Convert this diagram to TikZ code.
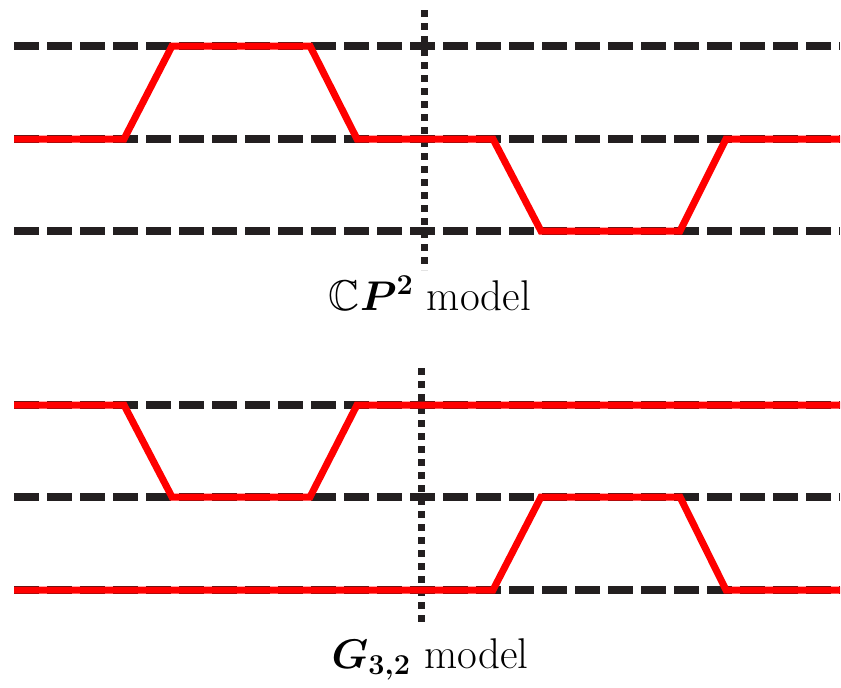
\documentclass[tikz,border=0pt]{standalone}
\usepackage{amsmath,amssymb,bm}
\definecolor{dashgray}{HTML}{231F20}
\tikzset{
  level/.style={draw=dashgray, line width=4pt, dash pattern=on 12.5pt off 4pt, line cap=butt},
  divider/.style={draw=dashgray, line width=3.5pt, dash pattern=on 3.5pt off 3pt, line cap=butt},
  path/.style={draw=red, line width=3.5pt, line join=miter, line cap=butt},
  caption/.style={anchor=base, inner sep=0pt, font=\fontsize{21.5}{25}\selectfont}
}
\begin{document}
\begin{tikzpicture}[x=0.5pt,y=-0.5pt]
\useasboundingbox (0,0) rectangle (841,687);
% top panel
\foreach \yy in {46,139,231} \draw[level] (14,\yy) -- (840,\yy);
\draw[divider] (424,10) -- (424,270);
\draw[path] (14,139) -- (124,139) -- (172,46) -- (310,46) -- (357,139) -- (493,139) -- (541,231) -- (680,231) -- (726,139) -- (840,139);
\node[caption] (capA) at (430,310) {$\mathbb{C}\bm{P}^{\bm{2}}$ model};
% bottom panel
\foreach \yy in {405,497,590} \draw[level] (14,\yy) -- (840,\yy);
\draw[divider] (421,368) -- (421,628);
\draw[path] (14,405) -- (124,405) -- (172,497) -- (310,497) -- (357,405) -- (840,405);
\draw[path] (14,590) -- (493,590) -- (541,497) -- (680,497) -- (726,590) -- (840,590);
\node[caption] (capB) at (430,668) {$\bm{G}_{\bm{3,2}}$ model};
\end{tikzpicture}
\end{document}
